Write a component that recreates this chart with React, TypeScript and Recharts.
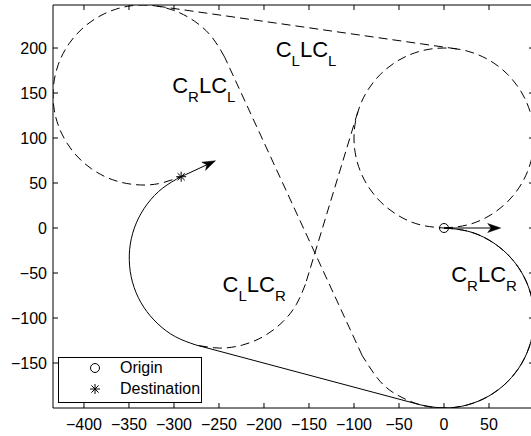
import { ScatterChart, Scatter, XAxis, YAxis, Legend, ReferenceDot } from 'recharts';

type Pt = { x: number; y: number };
const toPts = (rows: number[][]): Pt[] => rows.map(([x, y]) => ({ x, y }));

const xTicks = [-400, -350, -300, -250, -200, -150, -100, -50, 0, 50];
const yTicks = [-150, -100, -50, 0, 50, 100, 150, 200];

// start / goal poses
const origin = [{ x: 0, y: 0 }];
const destination = [{ x: -292, y: 57 }];
const originHeading = [{ x: 0, y: 0 }, { x: 63, y: 0 }];
const destHeading = [{ x: -292, y: 57 }, { x: -253.9, y: 74.7 }];
const legendOrder = ['Origin', 'Destination'];

// left-turn circle at the origin (dashed, drawn all round)
const originLeftCircle = toPts([
  [0, 0], [25.9, 3.4], [50, 13.4], [70.7, 29.3], [86.6, 50], [96.6, 74.1], [100, 100],
  [96.6, 125.9], [86.6, 150], [70.7, 170.7], [50, 186.6], [25.9, 196.6], [0, 200],
  [-25.9, 196.6], [-50, 186.6], [-70.7, 170.7], [-86.6, 150], [-96.6, 125.9], [-100, 100],
  [-96.6, 74.1], [-86.6, 50], [-70.7, 29.3], [-50, 13.4], [-25.9, 3.4], [0, 0],
]);

// right-turn arc at the origin used by C_R L C_L (dashed)
const originRightArcDashed = toPts([
  [0, 0], [25.9, -3.4], [50, -13.4], [70.7, -29.3], [86.6, -50], [96.6, -74.1], [100, -100],
  [96.6, -125.9], [86.6, -150], [70.7, -170.7], [50, -186.6], [25.9, -196.6], [0, -200],
  [-25.8, -196.6], [-50, -186.6], [-70.7, -170.7], [-90.8, -141.9],
]);

// left-turn arc at the destination (dashed)
const destLeftArc = toPts([
  [-243.6, 189.7], [-257.8, 212.1], [-277.0, 229.7], [-300.2, 241.8], [-325.7, 247.4],
  [-351.8, 246.3], [-376.7, 238.4], [-398.7, 224.4], [-416.3, 205.2], [-428.4, 182.0],
  [-434.0, 156.5], [-432.9, 130.4], [-425.0, 105.5], [-411.0, 83.5], [-391.8, 65.9],
  [-368.6, 53.8], [-343.1, 48.2], [-317.0, 49.3], [-292.1, 57.2],
]);

// right-turn arc at the destination used by C_L L C_R (dashed part)
const destRightArcDashed = toPts([
  [-154.0, -62.6], [-164.0, -84.9], [-179.0, -104.1], [-199.7, -120.0], [-223.8, -130.0],
  [-249.7, -133.4], [-275.6, -130.0],
]);

// straight segments (dashed)
const lineLL = toPts([[14.2, 199.0], [-320.2, 246.8]]);
const lineRL = toPts([[-90.8, -141.9], [-243.6, 189.7]]);
const lineLR = toPts([[-95.7, 129.2], [-154.0, -62.6]]);

// chosen path C_R L C_R (solid)
const pathArc1 = toPts([
  [0, 0], [25.9, -3.4], [50, -13.4], [70.7, -29.3], [86.6, -50], [96.6, -74.1], [100, -100],
  [96.6, -125.9], [86.6, -150], [70.7, -170.7], [50, -186.6], [25.9, -196.6], [0, -200],
  [-25.8, -196.6],
]);
const pathLine = toPts([[-25.8, -196.6], [-275.5, -130.0]]);
const pathArc2 = toPts([
  [-275.6, -130.0], [-298.2, -120.9], [-317.9, -106.5], [-333.6, -87.9], [-344.3, -66.0],
  [-349.3, -42.1], [-348.5, -17.8], [-341.8, 5.7], [-329.6, 26.8], [-312.6, 44.3], [-292.0, 57.2],
]);

const pathNames = [
  ['C', 'L', 'LC', 'L'],
  ['C', 'R', 'LC', 'L'],
  ['C', 'L', 'LC', 'R'],
  ['C', 'R', 'LC', 'R'],
];
const pathNameAt = [
  { x: -187, y: 190 },
  { x: -302, y: 150 },
  { x: -246, y: -71 },
  { x: 8, y: -60 },
];

const FONT = '"Liberation Sans", Arial, Helvetica, sans-serif';
const dashed = { stroke: '#000', strokeWidth: 1, strokeDasharray: '9 5' };
const solid = { stroke: '#000', strokeWidth: 1 };

const fmt = (v: number) => (v < 0 ? '\u2212' + Math.abs(v) : String(v));

const NoDot = () => <g />;

// ticks point into the plot, like the original figure
const BottomTick = (p: any) => (
  <g>
    <line x1={p.x} x2={p.x} y1={p.y - 11} y2={p.y - 16} stroke="#000" strokeWidth={1} />
    <text x={p.x} y={p.y} dy="0.71em" textAnchor="middle" fontFamily={FONT} fontSize={16} fill="#000">
      {fmt(p.payload.value)}
    </text>
  </g>
);
const LeftTick = (p: any) => (
  <g>
    <line x1={p.x + 6} x2={p.x + 11} y1={p.y} y2={p.y} stroke="#000" strokeWidth={1} />
    <text x={p.x} y={p.y} dy="0.355em" textAnchor="end" fontFamily={FONT} fontSize={16} fill="#000">
      {fmt(p.payload.value)}
    </text>
  </g>
);
const TopTick = (p: any) => <line x1={p.x} x2={p.x} y1={p.y} y2={p.y + 5} stroke="#000" strokeWidth={1} />;
const RightTick = (p: any) => <line x1={p.x} x2={p.x - 5} y1={p.y} y2={p.y} stroke="#000" strokeWidth={1} />;

const OpenCircle = (p: any) => (
  <circle cx={p.cx} cy={p.cy} r={4.5} fill="none" stroke="#000" strokeWidth={1} />
);

const Asterisk = (p: any) => {
  const s = 5;
  const d = s * 0.72;
  return (
    <g stroke="#000" strokeWidth={1}>
      <line x1={p.cx - s} y1={p.cy} x2={p.cx + s} y2={p.cy} />
      <line x1={p.cx} y1={p.cy - s} x2={p.cx} y2={p.cy + s} />
      <line x1={p.cx - d} y1={p.cy - d} x2={p.cx + d} y2={p.cy + d} />
      <line x1={p.cx - d} y1={p.cy + d} x2={p.cx + d} y2={p.cy - d} />
    </g>
  );
};

const Arrow = (p: any) => {
  const pts = p.points || [];
  if (pts.length < 2) return <g />;
  const a = pts[0];
  const b = pts[pts.length - 1];
  const ang = Math.atan2(b.y - a.y, b.x - a.x);
  const ux = Math.cos(ang);
  const uy = Math.sin(ang);
  const len = 13;
  const hw = 4.5;
  const back = { x: b.x - ux * len, y: b.y - uy * len };
  const notch = { x: b.x - ux * (len - 3.5), y: b.y - uy * (len - 3.5) };
  const l = { x: back.x - uy * hw, y: back.y + ux * hw };
  const r = { x: back.x + uy * hw, y: back.y - ux * hw };
  return (
    <g>
      <line x1={a.x} y1={a.y} x2={notch.x} y2={notch.y} stroke="#000" strokeWidth={1} />
      <polygon
        points={`${b.x},${b.y} ${l.x},${l.y} ${notch.x},${notch.y} ${r.x},${r.y}`}
        fill="#000"
        stroke="#000"
        strokeWidth={0.5}
      />
    </g>
  );
};

const PathName = (parts: string[]) => (p: any) => (
  <text x={p.cx} y={p.cy} fontFamily={FONT} fontSize={22} fill="#000">
    {parts[0]}
    <tspan dy={9} fontSize={15}>{parts[1]}</tspan>
    <tspan dy={-9} fontSize={22}>{parts[2]}</tspan>
    <tspan dy={9} fontSize={15}>{parts[3]}</tspan>
  </text>
);

const LegendBox = (props: any) => {
  const payload = props.payload || [];
  const items = legendOrder
    .map((name) => payload.find((e: any) => e.value === name))
    .filter(Boolean);
  return (
    <div
      style={{
        position: 'relative',
        width: 144,
        height: 46,
        boxSizing: 'border-box',
        border: '1px solid #000',
        background: '#fff',
        fontFamily: FONT,
        fontSize: 16,
        color: '#000',
      }}
    >
      {items.map((e: any, i: number) => (
        <div key={e.value} style={{ position: 'absolute', left: 0, top: i * 21, height: 21, width: '100%' }}>
          <svg width={14} height={14} style={{ position: 'absolute', left: 29, top: 3 }}>
            {e.type === 'circle' ? (
              <circle cx={7} cy={7} r={4.5} fill="none" stroke="#000" strokeWidth={1} />
            ) : (
              <Asterisk cx={7} cy={7} />
            )}
          </svg>
          <span style={{ position: 'absolute', left: 61, top: 0, lineHeight: '20px' }}>{e.value}</span>
        </div>
      ))}
    </div>
  );
};

const seg = (data: Pt[], style: any, key: string, curve: 'natural' | 'linear' = 'natural') => (
  <Scatter
    key={key}
    data={data}
    line={style}
    lineType="joint"
    lineJointType={curve}
    shape={NoDot}
    legendType="none"
    isAnimationActive={false}
  />
);

export default function App() {
  return (
    <div style={{ position: 'absolute', left: 0, top: 0, width: 531, height: 436, overflow: 'hidden', background: '#fff' }}>
      <ScatterChart width={540} height={436} margin={{ top: 4, right: 5, bottom: 0, left: 0 }}>
        <XAxis
          type="number"
          dataKey="x"
          domain={[-434.4, 100]}
          ticks={xTicks}
          interval={0}
          allowDataOverflow
          height={28}
          tickSize={0}
          tickMargin={11}
          tickLine={false}
          stroke="#000"
          tick={BottomTick}
        />
        <XAxis
          xAxisId="top"
          orientation="top"
          type="number"
          dataKey="x"
          domain={[-434.4, 100]}
          ticks={xTicks}
          interval={0}
          allowDataOverflow
          height={1}
          tickSize={0}
          tickMargin={0}
          tickLine={false}
          tick={TopTick}
          stroke="#000"
        />
        <YAxis
          type="number"
          dataKey="y"
          domain={[-200, 247.8]}
          ticks={yTicks}
          interval={0}
          allowDataOverflow
          width={53}
          tickSize={0}
          tickMargin={6}
          tickLine={false}
          stroke="#000"
          tick={LeftTick}
        />
        <YAxis
          yAxisId="right"
          orientation="right"
          type="number"
          dataKey="y"
          domain={[-200, 247.8]}
          ticks={yTicks}
          interval={0}
          allowDataOverflow
          width={1}
          tickSize={0}
          tickMargin={0}
          tickLine={false}
          tick={RightTick}
          stroke="#000"
        />

        {seg(originLeftCircle, dashed, 'cl1')}
        {seg(originRightArcDashed, dashed, 'cr1d')}
        {seg(destLeftArc, dashed, 'cl2')}
        {seg(destRightArcDashed, dashed, 'cr2d')}
        {seg(lineLL, dashed, 'll', 'linear')}
        {seg(lineRL, dashed, 'rl', 'linear')}
        {seg(lineLR, dashed, 'lr', 'linear')}

        {seg(pathArc1, solid, 'a1')}
        {seg(pathLine, solid, 'ln', 'linear')}
        {seg(pathArc2, solid, 'a2')}

        {/* keeps the top and right frame axes in use */}
        <Scatter xAxisId="top" yAxisId="right" data={origin} shape={NoDot} legendType="none" isAnimationActive={false} />

        <Scatter data={originHeading} line={Arrow} lineType="joint" shape={NoDot} legendType="none" isAnimationActive={false} />
        <Scatter data={destHeading} line={Arrow} lineType="joint" shape={NoDot} legendType="none" isAnimationActive={false} />

        <Scatter name="Origin" data={origin} shape={OpenCircle} legendType="circle" fill="#000" isAnimationActive={false} />
        <Scatter name="Destination" data={destination} shape={Asterisk} legendType="star" fill="#000" isAnimationActive={false} />

        {pathNameAt.map((p, i) => (
          <ReferenceDot key={i} x={p.x} y={p.y} r={0} shape={PathName(pathNames[i])} ifOverflow="visible" />
        ))}

        <Legend
          layout="horizontal"
          verticalAlign="middle"
          align="center"
          wrapperStyle={{ left: 58, top: 357, width: 144, height: 46 }}
          content={LegendBox}
        />
      </ScatterChart>
    </div>
  );
}
